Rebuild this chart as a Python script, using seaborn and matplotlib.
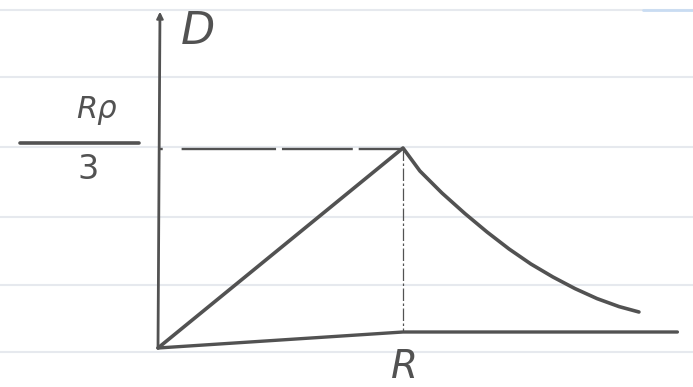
import matplotlib
matplotlib.use("Agg")
import matplotlib.pyplot as plt
import seaborn as sns
import pandas as pd

# ---- data (x in units of R, y in units of the peak value R*rho/3) ----
rise_x = [0.0, 1.0]
rise_y = [0.0, 1.0]
decay_x = [1.0, 1.069, 1.159, 1.253, 1.343, 1.433, 1.522, 1.612, 1.702, 1.792, 1.882, 1.963]
decay_y = [1.0, 0.885, 0.775, 0.672, 0.58, 0.495, 0.42, 0.355, 0.297, 0.247, 0.207, 0.18]
xaxis_x = [0.0, 1.0, 2.12]
xaxis_y = [0.0, 0.08, 0.08]
yaxis_x = [0.0, 0.008]
yaxis_y = [0.0, 1.665]
peak_x = 1.0
peak_y = 1.0
y_label = "D"
x_tick_label = "R"
y_tick_num = "Rρ"
y_tick_den = "3"
ruled_lines = [1.69, 1.355, 1.005, 0.655, 0.315, -0.02]

sns.set_theme(style="white")
plt.rcParams["font.family"] = ["DejaVu Sans"]
plt.rcParams["lines.solid_joinstyle"] = "round"
plt.rcParams["lines.solid_capstyle"] = "round"

ink = "#525252"
fig = plt.figure(figsize=(6.93, 3.87), dpi=100)
ax = fig.add_axes([0, 0, 1, 1])
ax.set_xlim(-158 / 245, 535 / 245)
ax.set_ylim(-39 / 200, 348 / 200)
ax.axis("off")

# ruled notebook paper
for yl in ruled_lines:
    ax.axhline(yl, color="#e6e9ee", lw=1.5, zorder=0)
ax.plot([1.98, 2.2], [1.69, 1.69], color="#c9dcf2", lw=2.0, zorder=0)

# axes drawn by hand
sns.lineplot(x=xaxis_x, y=xaxis_y, ax=ax, color=ink, lw=2.4, sort=False)
sns.lineplot(x=yaxis_x, y=yaxis_y, ax=ax, color=ink, lw=2.0, sort=False)
ax.annotate("", xy=(yaxis_x[1], yaxis_y[1] + 0.03), xytext=(yaxis_x[1], yaxis_y[1] - 0.05),
            arrowprops=dict(arrowstyle="-|>", color=ink, lw=1.5, mutation_scale=10))

# main curve
df = pd.DataFrame({"x": rise_x + decay_x, "y": rise_y + decay_y})
sns.lineplot(data=df, x="x", y="y", ax=ax, color=ink, lw=2.6, sort=False)

# guide lines
ax.plot([0, peak_x], [peak_y - 0.005, peak_y - 0.005], color=ink, lw=1.7,
        linestyle=(0, (2, 8, 40, 2.5, 30, 2.5, 40, 2.5)))
ax.plot([peak_x, peak_x], [peak_y, xaxis_y[1]], color=ink, lw=0.9,
        linestyle=(0, (10, 2, 2, 2)))

# labels
ax.plot([-0.563, -0.078], [1.025, 1.025], color=ink, lw=2.6)
ax.text(-0.249, 1.19, y_tick_num, fontsize=22, color=ink, ha="center", va="center", style="italic")
ax.text(-0.286, 0.895, y_tick_den, fontsize=24, color=ink, ha="center", va="center")
ax.text(0.163, 1.585, y_label, fontsize=32, color=ink, ha="center", va="center", style="italic")
ax.text(1.004, -0.095, x_tick_label, fontsize=28, color=ink, ha="center", va="center", style="italic")

fig.savefig("out.png", dpi=100)
